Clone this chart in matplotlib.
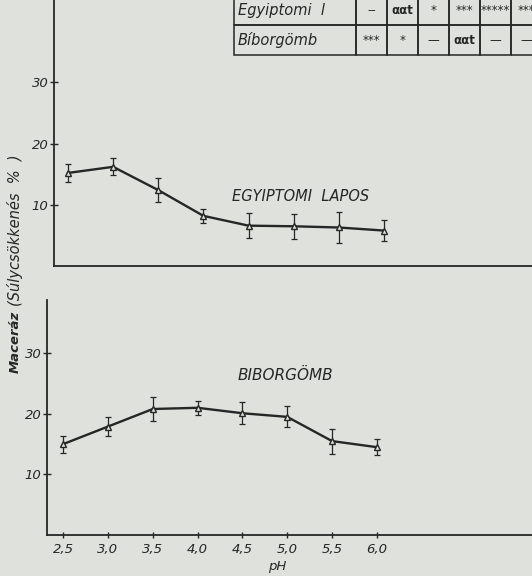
import numpy as np
import matplotlib.pyplot as plt

# data
ph = [2.5, 3.0, 3.5, 4.0, 4.5, 5.0, 5.5, 6.0]
ph_labels = ["2,5", "3,0", "3,5", "4,0", "4,5", "5,0", "5,5", "6,0"]

egyiptomi = [15.2, 16.2, 12.4, 8.2, 6.6, 6.5, 6.3, 5.8]
egyiptomi_err = [1.4, 1.4, 2.0, 1.1, 2.0, 2.0, 2.6, 1.65]

biborgomb = [15.0, 17.9, 20.8, 21.0, 20.1, 19.5, 15.5, 14.5]
biborgomb_err = [1.4, 1.5, 1.9, 1.2, 1.8, 1.75, 2.05, 1.35]

table_rows = ["Egyiptomi  l", "Bíborgömb"]
table_cells = [["--", "ααt", "*", "***", "*****", "***"],
               ["***", "*", "—", "ααt", "—", "—"]]

paper = "#dfe1dc"
ink = "#262626"

fig = plt.figure(figsize=(5.32, 5.76), dpi=100, facecolor=paper)


def style_axis(ax, ylim, xlim):
    ax.set_facecolor("none")
    for s in ["top", "right"]:
        ax.spines[s].set_visible(False)
    for s in ["left", "bottom"]:
        ax.spines[s].set_color(ink)
        ax.spines[s].set_linewidth(1.3)
    ax.set_ylim(*ylim)
    ax.set_xlim(*xlim)
    ax.set_yticks([10, 20, 30])
    ax.set_yticklabels(["10", "20", "30"], fontsize=9.5, style="italic", color=ink)
    ax.tick_params(direction="inout", length=6, width=1, colors=ink, pad=1)


def draw_series(ax, y, err):
    ax.errorbar(ph, y, yerr=err, fmt="none", ecolor=ink, elinewidth=0.9,
                capsize=2.5, capthick=0.9)
    ax.plot(ph, y, color=ink, lw=1.7, zorder=2)
    ax.plot(ph, y, ls="none", marker="^", ms=5, mfc=paper, mec=ink, mew=1.0,
            zorder=3)


# upper panel
ax1 = fig.add_axes([0.1015, 0.538, 0.8985, 0.4618])
style_axis(ax1, (0, 43.4), (2.345, 7.64))
ax1.set_xticks([])
draw_series(ax1, egyiptomi, egyiptomi_err)
ax1.text(5.08, 11.4, "EGYIPTOMI  LAPOS", fontsize=10.5, style="italic",
         ha="center", va="center", color=ink)

# lower panel
ax2 = fig.add_axes([0.0883, 0.0712, 0.9117, 0.408])
style_axis(ax2, (0, 38.8), (2.32, 7.73))
ax2.set_xticks(ph)
ax2.set_xticklabels(ph_labels, fontsize=9.5, style="italic", color=ink)
ax2.tick_params(axis="x", length=5, pad=3)
ax2.set_xlabel("pH", fontsize=9.5, style="italic", color=ink)
ax2.xaxis.set_label_coords(0.475, -0.105)
draw_series(ax2, biborgomb, biborgomb_err)
ax2.text(4.98, 26.3, "BIBORGÖMB", fontsize=11, style="italic",
         ha="center", va="center", color=ink)

# shared y label
fig.text(0.028, 0.352, "Maceráz", rotation=90, fontsize=9.5, weight="bold",
         style="italic", ha="center", va="bottom", color=ink)
fig.text(0.028, 0.468, "(Súlycsökkenés  %  )", rotation=90, fontsize=10.5,
         style="italic", ha="center", va="bottom", color=ink)

# significance table at top right
axt = fig.add_axes([0.4398, 0.9045, 0.579, 0.104])
axt.axis("off")
cell_text = [[r] + c for r, c in zip(table_rows, table_cells)]
col_w = [122] + [31] * 6
tab = axt.table(cellText=cell_text, colWidths=[w / sum(col_w) for w in col_w],
                bbox=[0, 0, 1, 1], cellLoc="center")
tab.auto_set_font_size(False)
for (r, c), cell in tab.get_celld().items():
    cell.set_facecolor("none")
    cell.set_edgecolor(ink)
    cell.set_linewidth(1.1)
    txt = cell.get_text()
    txt.set_color(ink)
    txt.set_fontsize(8.5)
    if c == 0:
        txt.set_style("italic")
        txt.set_fontsize(10.5)
        txt.set_ha("left")
        cell.PAD = 0.03
    elif txt.get_text() == "ααt":
        txt.set_weight("bold")

fig.savefig("out.png", dpi=100, facecolor=paper)
